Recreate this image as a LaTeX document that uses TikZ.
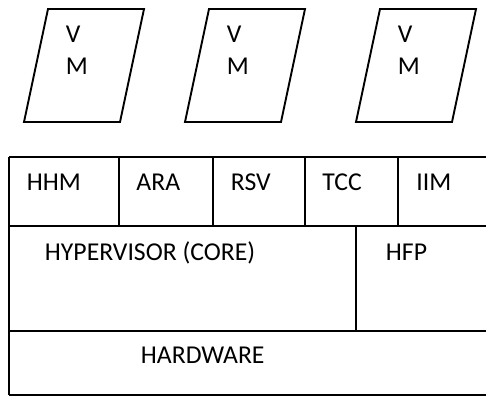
\documentclass[tikz,border=0pt]{standalone}
\usepackage{fontspec}
\setmainfont{Carlito}
\usetikzlibrary{positioning}

\begin{document}
\begin{tikzpicture}[
  x=1pt, y=-1pt,
  line width=1.9pt,
  lbl/.style={anchor=base west, inner sep=0pt, font=\fontsize{25.7}{31.7}\selectfont},
  vmtext/.style={lbl, anchor=north west, align=left}
]
  \useasboundingbox (0,0) rectangle (486,396);

  % virtual machines on top
  \foreach \x/\n in {24/1,185/2,356/3}{
    \draw (\x,122) -- ++(24,-113) -- ++(96,0) -- ++(-24,113) -- cycle;
    \node[vmtext] (vm\n) at (\x+41,25) {V\\M};
  }

  % layer stack
  \draw (9,157) -- (500,157);
  \draw (9,226) -- (500,226);
  \draw (9,331) -- (500,331);
  \draw (9,395) -- (500,395);
  \draw (9,157) -- (9,395);
  \foreach \x in {119,213,305,398}
    \draw (\x,157) -- (\x,226);
  \draw (356,226) -- (356,331);

  \node[lbl] (hhm) at (26,190) {HHM};
  \node[lbl] (ara) at (135.5,190) {ARA};
  \node[lbl] (rsv) at (230,190) {RSV};
  \node[lbl] (tcc) at (321.5,190) {TCC};
  \node[lbl] (iim) at (415.5,190) {IIM};
  \node[lbl] (core) at (44,260.5) {HYPERVISOR (CORE)};
  \node[lbl] (hfp) at (385,260.5) {HFP};
  \node[lbl] (hw) at (140,363) {HARDWARE};
\end{tikzpicture}
\end{document}
